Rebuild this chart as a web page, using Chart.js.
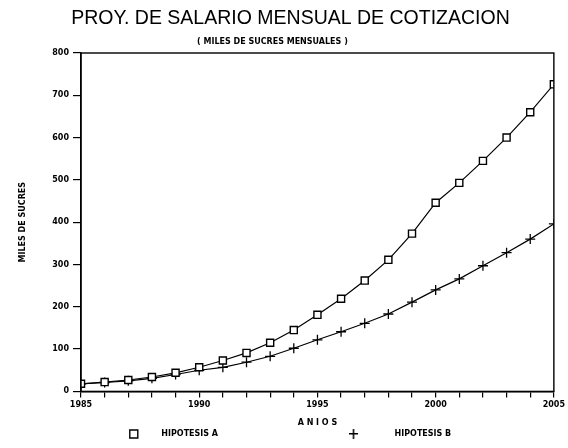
<!DOCTYPE html>
<html>
<head>
<meta charset="utf-8">
<script src="https://cdn.jsdelivr.net/npm/chart.js@4.4.1/dist/chart.umd.min.js"></script>
<style>
  html, body { margin: 0; padding: 0; background: #fff; }
  #wrap { width: 568px; height: 448px; }
</style>
</head>
<body>
<div id="wrap"><canvas id="salaryChart"></canvas></div>
<script>
/* Proyeccion del salario mensual de cotizacion (miles de sucres) */

const years = [1985, 1986, 1987, 1988, 1989, 1990, 1991, 1992, 1993, 1994, 1995,
               1996, 1997, 1998, 1999, 2000, 2001, 2002, 2003, 2004, 2005];
const hipotesisA = [18, 22, 27, 34, 44, 57, 73, 91, 115, 145, 181,
                    219, 262, 311, 373, 446, 493, 545, 600, 660, 726];
const hipotesisB = [18, 21, 25, 31, 40, 50, 57, 69, 83, 102, 122,
                    141, 161, 183, 211, 240, 266, 297, 328, 360, 396];
const yTicks = [0, 100, 200, 300, 400, 500, 600, 700, 800];
const xLabelYears = [1985, 1990, 1995, 2000, 2005];

Chart.defaults.color = '#000';
Chart.defaults.font.family = "'DejaVu Sans', sans-serif";

const smallBold = { family: "'DejaVu Sans', sans-serif", size: 8, weight: 'bold' };

/* small '+' for the legend, the built-in cross is too big there */
function legendPlus() {
    const c = document.createElement('canvas');
    c.width = 9;
    c.height = 10;
    const g = c.getContext('2d');
    g.fillStyle = '#000';
    g.fillRect(4, 0, 1.5, 10);
    g.fillRect(0, 4, 9, 1.5);
    return c;
}

/* box around the plot area */
const frame = {
    id: 'frame',
    afterDraw(chart) {
        const { ctx, chartArea: a } = chart;
        ctx.save();
        ctx.strokeStyle = '#000';
        ctx.lineWidth = 1.4;
        ctx.strokeRect(a.left, a.top, a.right - a.left, a.bottom - a.top);
        ctx.restore();
    }
};

const ctx = document.getElementById('salaryChart').getContext('2d');

new Chart(ctx, {
    type: 'line',
    data: {
        datasets: [
            {
                label: 'HIPOTESIS A',
                data: years.map((y, i) => ({ x: y, y: hipotesisA[i] })),
                borderColor: '#000',
                backgroundColor: '#fff',
                borderWidth: 1.2,
                pointStyle: 'rect',
                pointRadius: 5,
                pointBorderWidth: 1.4,
                pointBackgroundColor: '#fff',
                pointBorderColor: '#000',
                tension: 0
            },
            {
                label: 'HIPOTESIS B',
                data: years.map((y, i) => ({ x: y, y: hipotesisB[i] })),
                borderColor: '#000',
                backgroundColor: '#000',
                borderWidth: 1.2,
                pointStyle: 'cross',
                pointRadius: 5,
                pointBorderWidth: 1.3,
                pointBorderColor: '#000',
                tension: 0
            }
        ]
    },
    options: {
        responsive: true,
        maintainAspectRatio: false,
        animation: false,
        layout: { padding: { top: 0, right: 11, bottom: 0, left: 24 } },
        plugins: {
            title: {
                display: true,
                text: 'PROY. DE SALARIO MENSUAL DE COTIZACION',
                color: '#000',
                font: { family: "'Liberation Sans', sans-serif", size: 19.5, weight: 'normal' },
                padding: { top: 7, bottom: 0 }
            },
            subtitle: {
                display: true,
                // trailing blanks push the centred subtitle a bit left, as in the original
                text: '( MILES DE SUCRES MENSUALES )' + ' '.repeat(13),
                color: '#000',
                font: { family: "'DejaVu Sans', sans-serif", size: 8, weight: 'bold' },
                padding: { top: 7, bottom: 6 }
            },
            legend: {
                position: 'bottom',
                labels: {
                    usePointStyle: true,
                    color: '#000',
                    font: smallBold,
                    padding: 3,
                    generateLabels(chart) {
                        const items = Chart.defaults.plugins.legend.labels.generateLabels(chart);
                        items[0].text = '       ' + items[0].text + ' '.repeat(46);
                        items[1].text = '            ' + items[1].text;
                        items[1].pointStyle = legendPlus();
                        return items;
                    }
                }
            },
            tooltip: { enabled: false }
        },
        scales: {
            x: {
                type: 'linear',
                min: 1985,
                max: 2005,
                border: { display: true, color: '#000', width: 1.4 },
                grid: { drawOnChartArea: false, drawTicks: true, tickLength: 6, color: '#000', lineWidth: 1.2 },
                ticks: {
                    stepSize: 1,
                    autoSkip: false,
                    maxRotation: 0,
                    padding: 3,
                    color: '#000',
                    font: smallBold,
                    callback: v => xLabelYears.includes(v) ? String(v) : ''
                },
                title: {
                    display: true,
                    text: 'A N I O S',
                    color: '#000',
                    font: { ...smallBold, lineHeight: 1.0 },
                    padding: { top: 6, bottom: 0 }
                }
            },
            y: {
                min: 0,
                max: 800,
                afterBuildTicks(scale) {
                    scale.ticks = yTicks.map(v => ({ value: v }));
                },
                afterFit(scale) { scale.width = 57; },
                border: { display: true, color: '#000', width: 1.4 },
                grid: { drawOnChartArea: false, drawTicks: true, tickLength: 8, color: '#000', lineWidth: 1.2 },
                ticks: {
                    padding: 4,
                    color: '#000',
                    font: smallBold
                },
                title: {
                    display: true,
                    text: 'MILES DE SUCRES',
                    color: '#000',
                    font: smallBold,
                    padding: { top: -6, bottom: 0 }
                }
            }
        }
    },
    plugins: [frame]
});
</script>
</body>
</html>
